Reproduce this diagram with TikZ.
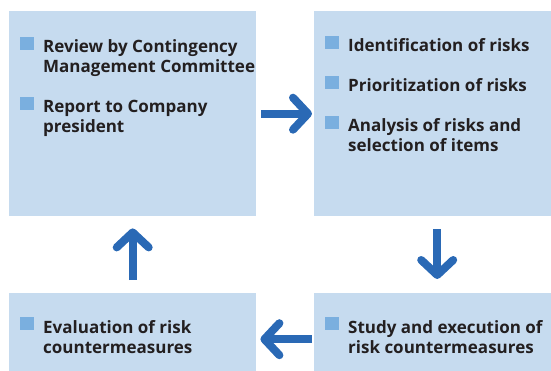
\documentclass[tikz,border=0pt]{standalone}
\usepackage{fontspec}
\setmainfont{Open Sans}
\usetikzlibrary{arrows.meta}
\definecolor{boxfill}{HTML}{C6DBEF}
\definecolor{arrowblue}{HTML}{2A69B5}
\definecolor{bulletblue}{HTML}{7AAFDF}
\definecolor{txt}{HTML}{231F20}
\tikzset{
  stagebox/.style={fill=boxfill, draw=none, inner sep=0pt, anchor=north west},
  bulletsq/.style={fill=bulletblue, draw=none, inner sep=0pt, minimum size=13.5pt},
  itemtext/.style={anchor=base west, inner sep=0pt, align=left, text=txt,
    font=\fontsize{17}{20}\selectfont\bfseries},
  flow/.style={draw=arrowblue, line width=8pt,
    -{Straight Barb[round, length=15pt, width=32pt]}},
}
\begin{document}
\begin{tikzpicture}[x=1pt,y=-1pt]
\useasboundingbox (0,0) rectangle (551,371);
% boxes
\node[stagebox, minimum width=247pt, minimum height=205pt] (b1) at (9,11) {};
\node[stagebox, minimum width=237pt, minimum height=205pt] (b2) at (314,11) {};
\node[stagebox, minimum width=247pt, minimum height=78pt] (b3) at (9,293) {};
\node[stagebox, minimum width=237pt, minimum height=78pt] (b4) at (314,293) {};
% box 1 items (two-line nodes: base anchor is the last line's baseline)
\node[bulletsq] (s1a) at (27,43.5) {};
\node[itemtext] (t1a) at (43,73) {Review by Contingency\\Management Committee};
\node[bulletsq] (s1b) at (27,103.5) {};
\node[itemtext] (t1b) at (43,133) {Report to Company\\president};
% box 2 items
\node[bulletsq] (s2a) at (332,42.5) {};
\node[itemtext] (t2a) at (348,52) {Identification of risks};
\node[bulletsq] (s2b) at (332,82.5) {};
\node[itemtext] (t2b) at (348,92) {Prioritization of risks};
\node[bulletsq] (s2c) at (332,122.5) {};
\node[itemtext] (t2c) at (348,152) {Analysis of risks and\\selection of items};
% box 3
\node[bulletsq] (s3) at (27,323.5) {};
\node[itemtext] (t3) at (43,353) {Evaluation of risk\\countermeasures};
% box 4
\node[bulletsq] (s4) at (332,323.5) {};
\node[itemtext] (t4) at (348,353) {Study and execution of\\risk countermeasures};
% arrows
\draw[flow, shorten <=5pt, shorten >=2pt] (b1.east) -- (b2.west);
\draw[flow, shorten <=13pt, shorten >=14pt] ([xshift=4.5pt]b2.south) -- ([xshift=4.5pt]b4.north);
\draw[flow, shorten <=2pt, shorten >=4pt] ([yshift=-7pt]b4.west) -- ([yshift=-7pt]b3.east);
\draw[flow, shorten <=13pt, shorten >=12pt] (b3.north) -- (b1.south);
\end{tikzpicture}
\end{document}
